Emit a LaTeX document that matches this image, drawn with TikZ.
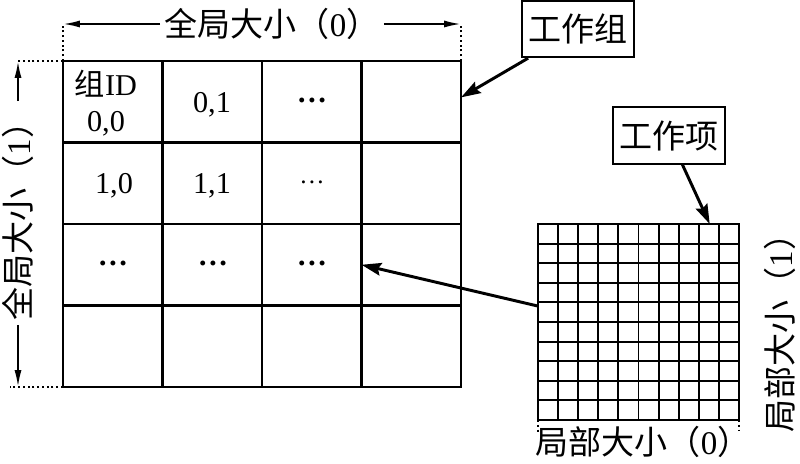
\documentclass[tikz,border=0pt]{standalone}
\usepackage{fontspec}
\setmainfont{Liberation Serif}
\newfontfamily\cjk{Noto Sans CJK SC}
\usetikzlibrary{arrows.meta}

\begin{document}
\begin{tikzpicture}[x=0.025cm, y=-0.025cm,
    cell/.style={draw, line width=2.1pt, minimum width=2.4875cm, minimum height=2.0375cm, inner sep=0pt, outer sep=0pt},
    txt/.style={font=\fontsize{21.5}{26}\selectfont, align=center, inner sep=0pt},
    lbl/.style={font=\fontsize{23.5}{28}\selectfont, inner sep=3pt},
    tag/.style={draw, line width=1.4pt, minimum width=2.82cm, minimum height=1.41cm, inner sep=0pt, font=\fontsize{23.5}{28}\selectfont\cjk},
    arr/.style={-{Stealth[length=14pt, width=9pt, inset=2pt]}, line width=2.1pt},
    dim/.style={-{Latex[length=12pt, width=5pt]}, line width=1.4pt},
    guide/.style={dotted, line width=1.4pt},
    fine/.style={line width=1.4pt}
]
\useasboundingbox (0,0) rectangle (800,464);

\foreach \r in {0,...,3}
  \foreach \c in {0,...,3}
    \node[cell] (c\r\c) at ({112.75+99.5*\c},{101.75+81.5*\r}) {};

\node[txt] (t00) at (106,103) {{\cjk 组}ID\\0,0};
\node[txt] (t01) at (212,105) {0,1};
\node[txt] (t02) at (312,100) {\textbf{…}};
\node[txt] (t10) at (114,186) {1,0};
\node[txt] (t11) at (212,186) {1,1};
\node[txt, font=\fontsize{18}{20}\selectfont] (t12) at (312,182) {…};
\node[txt] (t20) at (113,263) {\textbf{…}};
\node[txt] (t21) at (213,263) {\textbf{…}};
\node[txt] (t22) at (312,263) {\textbf{…}};

\node[draw, fine, minimum width=5.025cm, minimum height=4.9cm, inner sep=0pt, outer sep=0pt] (items) at (638.5,322) {};
\foreach \i in {1,...,9} {
  \draw[fine] ({538+20.1*\i},224) -- ({538+20.1*\i},420);
  \draw[fine] (538,{224+19.6*\i}) -- (739,{224+19.6*\i});
}
\draw[guide] (items.south west) -- ++(0,12);
\draw[guide] (items.south east) -- ++(0,10);

\node[tag] (zu) at (578,29) {工作组};
\node[tag] (xiang) at (669,135.5) {工作项};

\draw[arr] (zu) -- (c03.5);
\draw[arr] (xiang) -- (items.54);
\draw[arr] (items.171.5) -- (c22.east);

\node[lbl] (gx) at (272,24) {{\cjk 全局大小（}0{\cjk ）}};
\draw[dim] (gx) -- (gx -| c00.north west);
\draw[dim] (gx) -- (gx -| c03.north east);
\draw[guide] (c00.north west) -- (gx -| c00.north west);
\draw[guide] (c03.north east) -- (gx -| c03.north east);

\node[lbl, rotate=90] (gy) at (18,213) {{\cjk 全局大小（}1{\cjk ）}};
\draw[dim] (gy) -- (gy |- c00.north west);
\draw[dim] (gy) -- (gy |- c30.south west);
\draw[guide] (c00.north west) -- (gy |- c00.north west);
\draw[guide] (c30.south west) -- ([xshift=-0.2cm]gy |- c30.south west);

\node[lbl, rotate=90] (ly) at (780,325) {{\cjk 局部大小（}1{\cjk ）}};
\node[lbl] (lx) at (643,442) {{\cjk 局部大小（}0{\cjk ）}};
\end{tikzpicture}
\end{document}
